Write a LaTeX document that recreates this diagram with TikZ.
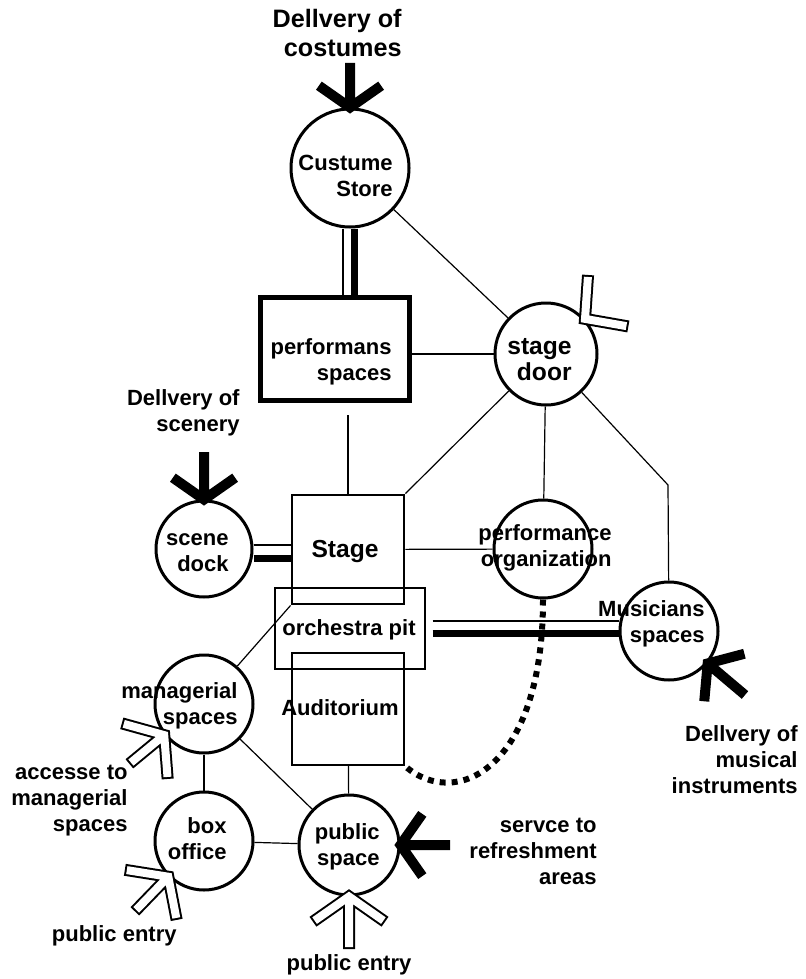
\documentclass[tikz,border=0pt]{standalone}
\usepackage{fontspec}
\setmainfont{Liberation Sans}
\usetikzlibrary{calc}

\begin{document}
\begin{tikzpicture}[x=0.5pt,y=-0.5pt,
  room/.style={circle,draw,line width=1.5pt,minimum size=#1,inner sep=0pt},
  hall/.style={draw,inner sep=0pt},
  txt/.style={font=\bfseries\fontsize{11}{13}\selectfont,align=right,inner sep=0pt},
  bigtxt/.style={font=\bfseries\fontsize{12.3}{13}\selectfont,align=right,inner sep=0pt},
  link/.style={line width=0.6pt},
  heavy/.style={line width=3.5pt},
  dots/.style={line width=3pt,dash pattern=on 3pt off 3pt},
  deliv/.style={line width=5pt},
  entry/.style={draw=white,line width=4pt,line cap=rect,
    preaction={draw=black,line width=6pt,line cap=rect}}]
\useasboundingbox (0,0) rectangle (805,979);

% rooms
\node[room=59pt] (cost) at (350,168) {};
\node[room=51pt] (door) at (546,354) {};
\node[room=48pt] (dock) at (204,549) {};
\node[room=49pt] (org) at (543,549) {};
\node[room=49pt] (mus) at (669,631) {};
\node[room=49pt] (mgr) at (204,704) {};
\node[room=49pt] (box) at (204,841) {};
\node[room=50pt] (pub) at (349,845) {};
\node[hall,line width=2.5pt,minimum width=74.5pt,minimum height=51.5pt] (perf) at (335,349) {};
\node[hall,line width=1.4pt,minimum width=56pt,minimum height=54.5pt] (stage) at (348,549.5) {};
\node[hall,line width=1.2pt,minimum width=56pt,minimum height=56pt] (aud) at (348,709) {};
\node[hall,line width=0.6pt,minimum width=75pt,minimum height=40.5pt] (pit) at (350,628.5) {};

% texts
\node[txt,anchor=east,font=\bfseries\fontsize{12.6}{14.5}\selectfont] (costlbl) at (402,33) {Dellvery of\\costumes};
\node[txt,anchor=east] (costtxt) at (393,176) {Custume\\Store};
\node[txt,anchor=east] (perftxt) at (392,362) {performans\\spaces};
\node[bigtxt,anchor=east] (doortxt) at (572,360) {stage\\door};
\node[txt,anchor=east] (scenelbl) at (240,413) {Dellvery of\\scenery};
\node[txt,anchor=east] (docktxt) at (229,553) {scene\\dock};
\node[bigtxt] (stagetxt) at (345,552) {Stage};
\node[txt,anchor=east] (orgtxt) at (612,548) {performance\\organization};
\node[txt] (pittxt) at (349,630) {orchestra pit};
\node[txt,anchor=east] (mustxt) at (705,624) {Musicians\\spaces};
\node[txt,anchor=east] (instlbl) at (798,760) {Dellvery of\\musical\\instruments};
\node[txt,anchor=east] (mgrtxt) at (238,706) {managerial\\spaces};
\node[txt,anchor=east] (accesslbl) at (128,801) {accesse to\\managerial\\spaces};
\node[txt,anchor=east] (boxtxt) at (227,839) {box\\office};
\node[txt] (audtxt) at (340,708) {Auditorium};
\node[txt,anchor=east] (pubtxt) at (380,847) {public\\space};
\node[txt,anchor=east] (refrlbl) at (597,851) {servce to\\refreshment\\areas};
\node[txt] (publbl) at (349,965) {public entry};
\node[txt,anchor=east] (boxlbl) at (177,936) {public entry};

% links
\draw[link] (cost) -- (door);
\draw[link] (perf.east |- door) -- (door);
\draw[link,shorten >=6pt] (stage.north) -- (stage.north |- perf.south);
\draw[link] (door) -- (stage.north east);
\draw[link] (door) -- (org);
\coordinate (bend) at (668,485);
\draw[link] (door) -- (bend) -- (mus);
\draw[link] (stage) -- (org);
\draw[link] (mgr) -- (stage.south west);
\draw[link] (mgr) -- (box);
\draw[link] (mgr) -- (pub);
\draw[link] (box) -- (pub);
\draw[link] (aud) -- (pub);
\draw[link] ([xshift=-3.5pt]cost.south) -- ([xshift=-3.5pt]cost.south |- perf.north);
\draw[heavy] ([xshift=2pt]cost.south) -- ([xshift=2pt]cost.south |- perf.north);
\draw[link] ([yshift=2pt]dock.east) -- ([yshift=2pt]dock.east -| stage.west);
\draw[heavy] ([yshift=-4.5pt]dock.east) -- ([yshift=-4.5pt]dock.east -| stage.west);
\draw[link,shorten <=3.5pt] ([yshift=3.75pt]pit.east) -- ([yshift=3.75pt]pit.east -| mus.west);
\draw[heavy,shorten <=3.5pt] ([yshift=-2.25pt]pit.east) -- ([yshift=-2.25pt]pit.east -| mus.west);
\draw[dots] (org.south) .. controls (543,770) and (455,810) .. (aud.south east);

% deliveries
\coordinate (costin) at (350,63);
\draw[deliv] (costin) -- (cost.north) ($(cost.north)!19pt!55:(costin)$) -- (cost.north) -- ($(cost.north)!19pt!-55:(costin)$);
\coordinate (dockin) at (204,452);
\draw[deliv] (dockin) -- (dock.north) ($(dock.north)!19pt!55:(dockin)$) -- (dock.north) -- ($(dock.north)!19pt!-55:(dockin)$);
\coordinate (musin) at (745,695);
\draw[deliv] (musin) -- (mus.-40) ($(mus.-40)!19pt!55:(musin)$) -- (mus.-40) -- ($(mus.-40)!19pt!-55:(musin)$);
\coordinate (pubin) at (450,845);
\draw[deliv] (pubin) -- (pub.east) ($(pub.east)!19pt!55:(pubin)$) -- (pub.east) -- ($(pub.east)!19pt!-55:(pubin)$);

% entries
\coordinate (doorin) at (650,268);
\draw[entry] ($(door.42)!19pt!48:(doorin)$) -- (door.42) -- ($(door.42)!19pt!-48:(doorin)$);
\coordinate (mgrin) at (134,760);
\draw[entry] (mgrin) -- ($(mgr.218)!3pt!(mgrin)$) ($(mgr.218)!19pt!55:(mgrin)$) -- (mgr.218) -- ($(mgr.218)!19pt!-55:(mgrin)$);
\coordinate (boxin) at (139,907);
\draw[entry] (boxin) -- ($(box.225)!3pt!(boxin)$) ($(box.225)!19pt!55:(boxin)$) -- (box.225) -- ($(box.225)!19pt!-55:(boxin)$);
\coordinate (pubentry) at (349,943);
\draw[entry] (pubentry) -- ($(pub.south)!3pt!(pubentry)$) ($(pub.south)!19pt!55:(pubentry)$) -- (pub.south) -- ($(pub.south)!19pt!-55:(pubentry)$);
\end{tikzpicture}
\end{document}
